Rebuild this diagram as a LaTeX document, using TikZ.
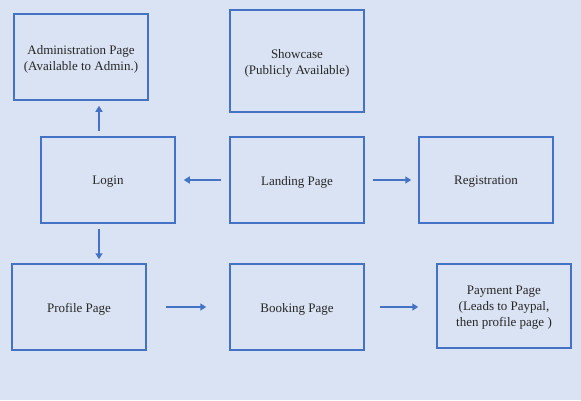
\documentclass[tikz,border=0pt]{standalone}
\usepackage{fontspec}
\setmainfont{Liberation Serif}
\usetikzlibrary{arrows.meta,calc}
\definecolor{bgc}{HTML}{DAE3F3}
\definecolor{edge}{HTML}{4472C4}
\begin{document}
\begin{tikzpicture}[x=1pt,y=-1pt,
  box/.style={draw=edge,line width=1.5pt,minimum width=134pt,minimum height=86pt,inner sep=0pt},
  txt/.style={align=center,font=\fontsize{13}{16}\selectfont,text=black!85,yshift=-2pt},
  conn/.style={draw=edge,line width=2pt,-{Triangle[length=6pt,width=7pt]}}]
\fill[bgc] (0,0) rectangle (581,400);
\useasboundingbox (0,0) rectangle (581,400);
\node[box,label={[txt]center:Administration Page\\(Available to Admin.)}] (admin) at (81,57) {};
\node[box,minimum height=102pt,label={[txt]center:Showcase\\(Publicly Available)}] (show) at (297,61) {};
\node[box,label={[txt]center:Login}] (login) at (108,180) {};
\node[box,label={[txt]center:Landing Page}] (land) at (297,180) {};
\node[box,label={[txt]center:Registration}] (reg) at (486,180) {};
\node[box,label={[txt]center:Profile Page}] (prof) at (79,307) {};
\node[box,label={[txt]center:Booking Page}] (book) at (297,307) {};
\node[box,minimum height=84pt,label={[txt]center:Payment Page\\(Leads to Paypal,\\then profile page )}] (pay) at (504,306) {};
\coordinate (lt) at ([xshift=-9pt]login.north);
\coordinate (lb) at ([xshift=-9pt]login.south);
\draw[conn,shorten <=5pt,shorten >=5pt] (lt) -- (lt |- admin.south);
\draw[conn,shorten <=5pt,shorten >=4pt] (lb) -- (lb |- prof.north);
\draw[conn,shorten <=8pt,shorten >=8pt] (land.west) -- (login.east);
\draw[conn,shorten <=8pt,shorten >=7pt] (land.east) -- (reg.west);
\draw[conn,shorten <=19pt,shorten >=23pt] (prof.east) -- (book.west);
\draw[conn,shorten <=15pt,shorten >=18pt] (book.east) -- (book.east -| pay.west);
\end{tikzpicture}
\end{document}
